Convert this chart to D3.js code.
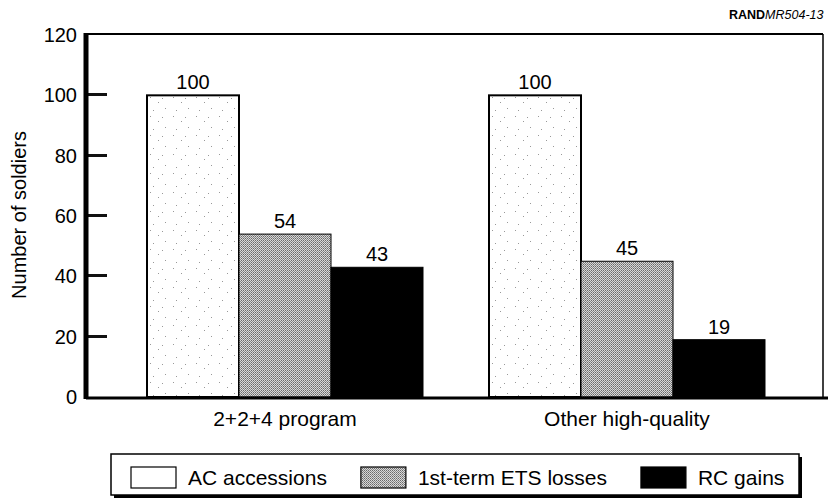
<!DOCTYPE html>
<html>
<head>
<meta charset="utf-8">
<script src="https://cdn.jsdelivr.net/npm/d3@7"></script>
<style>
  body { margin: 0; background: #fff; }
  svg text { font-family: "Liberation Sans", Arial, Helvetica, sans-serif; fill: #000; }
</style>
</head>
<body>
<svg id="chart" width="828" height="500"></svg>
<script>
// Data
const groups = ["2+2+4 program", "Other high-quality"];
const series = ["AC accessions", "1st-term ETS losses", "RC gains"];
const acValues = [100, 100];
const etsValues = [54, 45];
const rcValues = [43, 19];
const yTicks = [0, 20, 40, 60, 80, 100, 120];

const svg = d3.select("#chart");
const w = 828, h = 500;

// patterns for the bar fills
const defs = svg.append("defs");
const dots = defs.append("pattern")
    .attr("id", "sparse")
    .attr("patternUnits", "userSpaceOnUse")
    .attr("width", 23).attr("height", 19);
dots.append("rect").attr("width", 23).attr("height", 19).attr("fill", "#fff");
[[3, 2], [11, 7], [18, 13], [6, 15], [15, 3]].forEach(p => {
    dots.append("rect").attr("x", p[0]).attr("y", p[1])
        .attr("width", 1).attr("height", 1).attr("fill", "#999");
});

const stip = defs.append("pattern")
    .attr("id", "stipple")
    .attr("patternUnits", "userSpaceOnUse")
    .attr("width", 2).attr("height", 2);
stip.append("rect").attr("width", 2).attr("height", 2).attr("fill", "#d8d8d8");
stip.append("rect").attr("width", 1).attr("height", 1).attr("fill", "#6a6a6a");
stip.append("rect").attr("x", 1).attr("y", 1).attr("width", 1).attr("height", 1).attr("fill", "#8a8a8a");

const fills = { "AC accessions": "url(#sparse)", "1st-term ETS losses": "url(#stipple)", "RC gains": "#000" };

// scales
const plotL = 86, plotR = 823, plotT = 35, plotB = 397;
const yScale = d3.scaleLinear().domain([0, 120]).range([plotB, plotT]);
const xGroup = d3.scalePoint().domain(groups).range([114, 798]).padding(0.5);
const xInner = d3.scaleBand().domain(series).range([-138, 138]);

const rows = groups.map((g, i) => ({
    group: g,
    values: [acValues[i], etsValues[i], rcValues[i]].map((v, j) => ({ key: series[j], value: v }))
}));

// bars
const gBars = svg.selectAll(".grp")
    .data(rows)
    .join("g")
    .attr("class", "grp")
    .attr("transform", d => `translate(${xGroup(d.group)},0)`);

gBars.selectAll("rect")
    .data(d => d.values)
    .join("rect")
    .attr("x", d => xInner(d.key))
    .attr("y", d => yScale(d.value))
    .attr("width", xInner.bandwidth())
    .attr("height", d => plotB - yScale(d.value))
    .attr("fill", d => fills[d.key])
    .attr("stroke", "#000")
    .attr("stroke-width", d => d.key === "AC accessions" ? 2 : 1);

gBars.selectAll(".val")
    .data(d => d.values)
    .join("text")
    .attr("class", "val")
    .attr("x", d => xInner(d.key) + xInner.bandwidth() / 2)
    .attr("y", d => yScale(d.value) - 6)
    .attr("text-anchor", "middle")
    .attr("font-size", 20)
    .text(d => d.value);

// frame
svg.append("line").attr("x1", plotL).attr("x2", plotR).attr("y1", plotT - 1).attr("y2", plotT - 1)
    .attr("stroke", "#000").attr("stroke-width", 2);
svg.append("line").attr("x1", plotR).attr("x2", plotR).attr("y1", plotT - 1).attr("y2", plotB)
    .attr("stroke", "#000").attr("stroke-width", 1.5);

// y axis: inward ticks, thick spine
const tickG = svg.append("g").attr("class", "yticks");
tickG.selectAll("rect")
    .data(yTicks.slice(1, -1))
    .join("rect")
    .attr("x", plotL)
    .attr("y", d => Math.round(yScale(d)) - 2)
    .attr("width", 21)
    .attr("height", 3)
    .attr("fill", "#111");
svg.append("rect").attr("x", plotL - 2.5).attr("y", plotT - 2).attr("width", 5).attr("height", plotB - plotT + 4)
    .attr("fill", "#000");
svg.selectAll(".ylab")
    .data(yTicks)
    .join("text")
    .attr("class", "ylab")
    .attr("x", 77)
    .attr("y", d => yScale(d) + 7)
    .attr("text-anchor", "end")
    .attr("font-size", 20)
    .text(d => d);

// x axis baseline
svg.append("line").attr("x1", plotL).attr("x2", w).attr("y1", plotB + 1).attr("y2", plotB + 1)
    .attr("stroke", "#000").attr("stroke-width", 3);
svg.selectAll(".xlab")
    .data(groups)
    .join("text")
    .attr("class", "xlab")
    .attr("x", d => xGroup(d))
    .attr("y", 426)
    .attr("text-anchor", "middle")
    .attr("font-size", 21)
    .text(d => d);

// y title
svg.append("text")
    .attr("transform", `translate(26,${(plotT + plotB) / 2 - 1}) rotate(-90)`)
    .attr("text-anchor", "middle")
    .attr("font-size", 20)
    .text("Number of soldiers");

// source tag
const tag = svg.append("text").attr("x", 729).attr("y", 19).attr("font-size", 12.5);
tag.append("tspan").attr("font-weight", "bold").text("RAND");
tag.append("tspan").attr("font-style", "italic").text("MR504-13");

// legend
const lg = svg.append("g");
lg.append("rect").attr("x", 114).attr("y", 457).attr("width", 688).attr("height", 41).attr("fill", "#000");
lg.append("rect").attr("x", 111).attr("y", 454).attr("width", 688).attr("height", 41)
    .attr("fill", "#fff").attr("stroke", "#000").attr("stroke-width", 1.5);
let lx = 131;
series.forEach(s => {
    lg.append("rect").attr("x", lx).attr("y", 467).attr("width", 45).attr("height", 21)
        .attr("fill", s === "AC accessions" ? "#fff" : fills[s])
        .attr("stroke", "#000").attr("stroke-width", 1.2);
    const t = lg.append("text").attr("x", lx + 57).attr("y", 485).attr("font-size", 21).text(s);
    lx += 57 + t.node().getComputedTextLength() + 34;
});
</script>
</body>
</html>
